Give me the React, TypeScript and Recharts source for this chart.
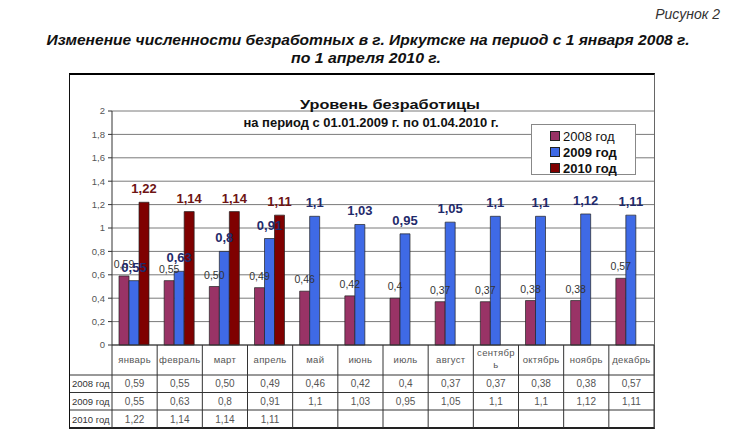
import { BarChart, Bar, XAxis, YAxis, CartesianGrid, LabelList } from "recharts";

const months = ["январь", "февраль", "март", "апрель", "май", "июнь", "июль", "август", "сентябрь", "октябрь", "ноябрь", "декабрь"];
const v2008 = ["0,59", "0,55", "0,50", "0,49", "0,46", "0,42", "0,4", "0,37", "0,37", "0,38", "0,38", "0,57"];
const v2009 = ["0,55", "0,63", "0,8", "0,91", "1,1", "1,03", "0,95", "1,05", "1,1", "1,1", "1,12", "1,11"];
const v2010 = ["1,22", "1,14", "1,14", "1,11"];
const seriesNames = ["2008 год", "2009 год", "2010 год"];
const yTicks = [0, 0.2, 0.4, 0.6, 0.8, 1, 1.2, 1.4, 1.6, 1.8, 2];

const colors = ["#993366", "#3f6ae6", "#7f0000"];
const labelColors = ["#333333", "#1f2a6b", "#6e1414"];

const num = (s?: string) => (s === undefined ? null : parseFloat(s.replace(",", ".")));
const fmt = (v: number) => String(v).replace(".", ",");

const data = months.map((m, i) => ({
  month: m,
  a: num(v2008[i]),
  b: num(v2009[i]),
  c: num(v2010[i]),
  la: v2008[i],
  lb: v2009[i],
  lc: v2010[i] ?? "",
}));

// layout of the plot and the data table under it
const PLOT_L = 112;
const PLOT_R = 654;
const PLOT_T = 111;
const PLOT_B = 345;
const TABLE_B = 428;
const FRAME_L = 70;
const BAND = (PLOT_R - PLOT_L) / months.length;
const ROWS = [PLOT_B, 375, 392.5, 410, TABLE_B];
const font = "'Liberation Sans', Arial, sans-serif";
const narrow = "'Liberation Sans Narrow', 'Liberation Sans', sans-serif";

function TableTick(props: any) {
  const { x, index } = props;
  const half = BAND / 2;
  const m = months[index];
  const lines = m.length > 7 ? [m.slice(0, 7), m.slice(7)] : [m];
  const cells = [v2008[index], v2009[index], v2010[index]];
  return (
    <g fontFamily={font}>
      {index === 0 && (
        <g>
          <line x1={x - half} x2={x - half} y1={PLOT_B} y2={TABLE_B} stroke="#333" />
          {ROWS.slice(1, 4).map((r) => (
            <line key={r} x1={FRAME_L} x2={PLOT_R} y1={r} y2={r} stroke="#333" />
          ))}
          {seriesNames.map((s, k) => (
            <text key={s} x={FRAME_L + 2} y={(ROWS[k + 1] + ROWS[k + 2]) / 2 + 3.5} fontSize={9.5} fill="#333">
              {s}
            </text>
          ))}
        </g>
      )}
      <line x1={x + half} x2={x + half} y1={PLOT_B} y2={TABLE_B} stroke="#333" />
      <text x={x} y={lines.length > 1 ? 356 : 363} textAnchor="middle" fontSize={9.5} fill="#555" letterSpacing={0.3}>
        {lines.map((l, k) => (
          <tspan key={k} x={x} dy={k === 0 ? 0 : 12}>
            {l}
          </tspan>
        ))}
      </text>
      {cells.map((c, k) =>
        c ? (
          <text key={k} x={x} y={(ROWS[k + 1] + ROWS[k + 2]) / 2 + 3.5} textAnchor="middle" fontSize={10} fill="#555">
            {c}
          </text>
        ) : null
      )}
    </g>
  );
}

export default function App() {
  return (
    <div style={{ position: "absolute", left: 0, top: 0, width: 739, height: 435, background: "#fff", fontFamily: font }}>
      <div
        style={{
          position: "absolute",
          left: FRAME_L - 1,
          top: 73,
          width: PLOT_R - FRAME_L + 2,
          height: TABLE_B - 73 + 1,
          boxSizing: "border-box",
          borderTop: "2px solid #000",
          borderLeft: "1px solid #111",
          borderRight: "1px solid #666",
          borderBottom: "2px solid #222",
        }}
      />
      <div style={{ position: "absolute", left: 0, top: 0 }}>
        <BarChart
          width={739}
          height={435}
          data={data}
          margin={{ top: PLOT_T, right: 739 - PLOT_R, bottom: 435 - TABLE_B, left: FRAME_L }}
          barCategoryGap="15.5%"
          barGap={0}
        >
          <CartesianGrid vertical={false} stroke="#7a7a7a" />
          <YAxis
            domain={[0, 2]}
            ticks={yTicks}
            interval={0}
            width={PLOT_L - FRAME_L}
            tickFormatter={fmt}
            axisLine={{ stroke: "#333" }}
            tickLine={{ stroke: "#333" }}
            tickSize={4}
            tickMargin={3}
            tick={{ fontSize: 9.5, fill: "#555", fontFamily: font }}
          />
          <XAxis
            dataKey="month"
            height={TABLE_B - PLOT_B}
            interval={0}
            tickLine={false}
            tickSize={0}
            axisLine={{ stroke: "#333" }}
            tick={<TableTick />}
          />
          <Bar dataKey="a" name={seriesNames[0]} fill={colors[0]} stroke="#222" strokeWidth={0.7} isAnimationActive={false}>
            <LabelList dataKey="la" position="top" offset={8} style={{ fontSize: 10.5, fill: labelColors[0], fontFamily: font }} />
          </Bar>
          <Bar dataKey="b" name={seriesNames[1]} fill={colors[1]} stroke="#222" strokeWidth={0.7} isAnimationActive={false}>
            <LabelList dataKey="lb" position="top" offset={9} style={{ fontSize: 13, fontWeight: "bold", fill: labelColors[1], fontFamily: font }} />
          </Bar>
          <Bar dataKey="c" name={seriesNames[2]} fill={colors[2]} stroke="#222" strokeWidth={0.7} isAnimationActive={false}>
            <LabelList dataKey="lc" position="top" offset={9} style={{ fontSize: 13, fontWeight: "bold", fill: labelColors[2], fontFamily: font }} />
          </Bar>
        </BarChart>
      </div>
      <div
        style={{
          position: "absolute",
          left: 531,
          top: 124,
          width: 105,
          height: 51,
          boxSizing: "border-box",
          border: "1px solid #888",
          background: "#fff",
          padding: "3px 0 0 18px",
        }}
      >
        {seriesNames.map((s, k) => (
          <div key={s} style={{ display: "flex", alignItems: "center", height: 16, fontSize: 13, color: "#111", fontWeight: k === 0 ? "normal" : "bold" }}>
            <span style={{ display: "inline-block", width: 8, height: 8, background: colors[k], border: "1px solid #222", marginRight: 3 }} />
            {s}
          </div>
        ))}
      </div>
      <svg width={739} height={435} style={{ position: "absolute", left: 0, top: 0, pointerEvents: "none" }} fontFamily={font}>
        <text x={720} y={19} textAnchor="end" fontSize={14} fontStyle="italic" fill="#333" fontFamily={narrow}>
          Рисунок 2
        </text>
        <text x={368} y={45} textAnchor="middle" fontSize={15} fontStyle="italic" fontWeight="bold" fill="#111" textLength={643} lengthAdjust="spacingAndGlyphs" fontFamily={narrow}>
          Изменение численности безработных в г. Иркутске на период с 1 января 2008 г.
        </text>
        <text x={366} y={63} textAnchor="middle" fontSize={15} fontStyle="italic" fontWeight="bold" fill="#111" textLength={150} lengthAdjust="spacingAndGlyphs" fontFamily={narrow}>
          по 1 апреля 2010 г.
        </text>
        <text x={390} y={109} textAnchor="middle" fontSize={12.5} fontWeight="bold" fill="#111" textLength={180} lengthAdjust="spacingAndGlyphs">
          Уровень безработицы
        </text>
        <text x={371} y={126.5} textAnchor="middle" fontSize={12} fontWeight="bold" fill="#111" textLength={255} lengthAdjust="spacingAndGlyphs">
          на период с 01.01.2009 г. по 01.04.2010 г.
        </text>
      </svg>
    </div>
  );
}
